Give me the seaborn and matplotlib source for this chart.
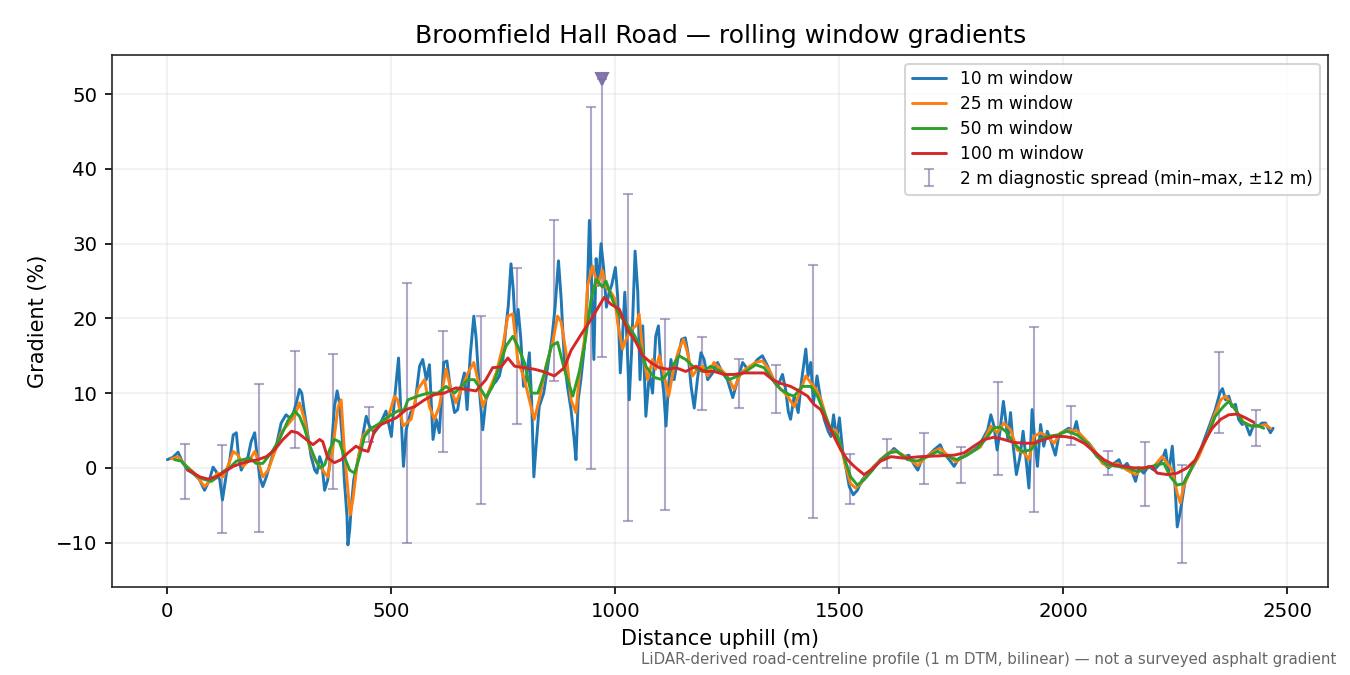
import numpy as np
import pandas as pd
import matplotlib
matplotlib.use("Agg")
import matplotlib.pyplot as plt
import seaborn as sns

# ---------------- data ----------------
w10_x = [0, 12, 24, 35, 46, 61, 72, 83, 94, 102, 109, 117, 123, 132, 139, 147, 154, 159, 165, 172,
         180, 187, 195, 198, 206, 213, 221, 232, 243, 254, 265, 277, 288, 295, 300, 306, 314, 321, 329, 334,
         340, 345, 351, 358, 366, 373, 379, 384, 390, 395, 401, 403, 407, 410, 416, 424, 433, 444, 451, 462,
         473, 488, 500, 507, 516, 520, 527, 533, 543, 552, 563, 570, 578, 585, 593, 600, 607, 617, 624, 632,
         641, 648, 656, 663, 669, 676, 684, 689, 697, 704, 711, 723, 734, 741, 749, 756, 761, 767, 772, 777,
         783, 789, 795, 801, 808, 813, 818, 823, 830, 840, 849, 858, 865, 873, 879, 886, 893, 901, 908, 912,
         917, 923, 931, 937, 942, 947, 952, 957, 962, 968, 974, 980, 986, 992, 1000, 1005, 1011, 1016, 1021, 1026,
         1031, 1036, 1044, 1050, 1055, 1061, 1068, 1076, 1083, 1090, 1096, 1102, 1108, 1113, 1118, 1124, 1131, 1139, 1148, 1156,
         1162, 1169, 1176, 1183, 1191, 1198, 1206, 1217, 1228, 1239, 1250, 1262, 1273, 1284, 1295, 1306, 1317, 1328, 1340, 1351,
         1362, 1373, 1380, 1386, 1391, 1399, 1408, 1415, 1425, 1430, 1436, 1442, 1450, 1457, 1466, 1475, 1481, 1487, 1494, 1500,
         1507, 1514, 1522, 1531, 1540, 1551, 1563, 1577, 1592, 1607, 1622, 1633, 1644, 1655, 1667, 1675, 1685, 1696, 1711, 1725,
         1733, 1745, 1756, 1767, 1778, 1789, 1800, 1811, 1823, 1831, 1838, 1845, 1852, 1858, 1866, 1871, 1876, 1882, 1888, 1895,
         1903, 1910, 1916, 1923, 1930, 1936, 1942, 1949, 1956, 1964, 1971, 1982, 1990, 2001, 2012, 2023, 2029, 2034, 2046, 2057,
         2068, 2079, 2090, 2101, 2113, 2124, 2131, 2142, 2154, 2161, 2168, 2179, 2190, 2202, 2213, 2220, 2228, 2235, 2243, 2248,
         2254, 2260, 2265, 2272, 2284, 2295, 2306, 2317, 2328, 2339, 2349, 2355, 2362, 2369, 2376, 2384, 2391, 2399, 2406, 2416,
         2425, 2436, 2443, 2451, 2462, 2468]
w10_y = [1.1, 1.4, 2.1, 0.6, -0.3, -0.9, -1.6, -3.0, -1.6, 0.1, -0.5, -1.6, -4.3, -0.7, 0.9, 4.4, 4.7, 1.5, -0.3, 0.6,
         1.5, 3.5, 4.7, 2.9, -1.2, -2.5, -1.2, 1.1, 2.9, 6.0, 7.1, 6.5, 8.7, 10.5, 10.0, 7.4, 4.2, 1.5, -0.3, -0.7,
         1.5, 0.6, -3.0, -1.6, 2.4, 8.2, 10.3, 8.7, 4.2, -1.6, -6.5, -10.3, -8.3, -5.6, -1.6, 0.6, 3.3, 6.9, 5.6, 4.7,
         5.6, 7.6, 4.2, 9.1, 14.7, 9.1, 0.2, 5.1, 7.4, 8.2, 13.6, 14.5, 11.8, 13.8, 3.8, 6.5, 4.7, 14.1, 14.3, 10.5,
         7.4, 7.8, 11.0, 12.7, 7.8, 15.0, 20.3, 17.5, 10.0, 5.1, 9.1, 10.9, 11.6, 12.3, 14.5, 19.0, 21.7, 27.3, 23.9, 18.1,
         21.2, 17.2, 10.9, 11.8, 15.4, 9.1, -1.2, 2.9, 8.2, 10.0, 13.6, 17.2, 21.2, 27.7, 22.6, 14.5, 10.9, 7.8, 3.8, 1.1,
         9.1, 11.8, 16.3, 22.6, 33.1, 24.8, 14.5, 28.0, 24.4, 30.0, 26.6, 21.5, 23.5, 24.5, 26.8, 23.0, 12.7, 17.6, 23.5, 16.8,
         9.1, 15.4, 29.0, 23.5, 11.8, 19.0, 6.9, 12.7, 10.0, 17.6, 19.0, 13.2, 10.0, 5.6, 10.5, 14.5, 11.8, 14.5, 17.2, 17.4,
         15.4, 10.9, 8.0, 11.8, 15.4, 14.5, 11.8, 12.7, 14.1, 12.7, 11.8, 9.4, 11.8, 14.1, 13.2, 13.6, 14.5, 15.0, 13.6, 11.8,
         10.9, 12.5, 10.5, 7.5, 6.5, 9.6, 7.4, 11.4, 15.9, 12.3, 14.1, 8.7, 12.3, 9.6, 6.5, 4.9, 4.2, 7.1, 3.8, 6.7,
         2.4, 0.2, -2.5, -3.6, -3.0, -1.6, -0.7, 0.2, 1.1, 1.7, 2.6, 2.0, 1.5, 1.7, 0.4, -0.3, 1.3, 1.5, 2.4, 3.1,
         2.0, 1.1, 0.2, 1.3, 1.5, 2.0, 2.4, 2.9, 4.2, 5.1, 7.1, 5.6, 2.4, 4.7, 8.9, 6.5, 3.8, 7.4, 2.9, -0.9,
         1.5, 4.9, 1.5, -2.7, 7.8, 3.8, 0.2, 5.8, 2.9, 4.9, 3.8, 1.7, 4.4, 4.9, 5.3, 4.9, 6.2, 4.7, 3.8, 3.3,
         2.4, 1.5, 0.6, 0.0, 0.6, 1.1, 0.0, 0.6, -0.7, -1.8, 0.0, -0.7, 0.2, -0.3, 0.4, 1.1, 2.4, -0.7, 2.9, -1.2,
         -7.9, -6.1, -4.3, -1.6, -0.3, 0.9, 2.4, 4.2, 6.0, 7.8, 10.0, 10.6, 9.1, 9.6, 8.2, 8.5, 6.5, 5.8, 6.0, 4.4,
         5.8, 5.6, 6.0, 6.0, 4.7, 5.3]

w25_x = [9, 24, 39, 57, 72, 83, 98, 113, 124, 135, 147, 158, 169, 184, 195, 202, 213, 225, 239, 254,
         269, 284, 295, 306, 317, 329, 343, 358, 369, 381, 388, 395, 403, 408, 414, 425, 436, 449, 462, 477,
         492, 507, 514, 526, 544, 559, 574, 585, 596, 607, 622, 633, 644, 656, 671, 684, 693, 704, 719, 734,
         749, 760, 771, 782, 797, 808, 819, 830, 845, 860, 871, 879, 890, 901, 912, 920, 931, 938, 949, 960,
         971, 979, 990, 999, 1005, 1016, 1024, 1035, 1046, 1053, 1061, 1072, 1083, 1090, 1098, 1109, 1119, 1131, 1142, 1152,
         1161, 1172, 1183, 1195, 1206, 1220, 1235, 1250, 1265, 1280, 1295, 1313, 1328, 1343, 1358, 1373, 1384, 1399, 1414, 1425,
         1436, 1448, 1459, 1470, 1481, 1492, 1503, 1514, 1525, 1536, 1548, 1563, 1577, 1592, 1607, 1622, 1640, 1660, 1675, 1690,
         1711, 1725, 1745, 1760, 1780, 1800, 1815, 1830, 1838, 1852, 1867, 1882, 1897, 1912, 1923, 1934, 1949, 1964, 1979, 1994,
         2016, 2031, 2049, 2068, 2087, 2101, 2120, 2142, 2161, 2179, 2202, 2220, 2232, 2243, 2254, 2261, 2268, 2284, 2302, 2321,
         2336, 2351, 2362, 2373, 2388, 2403, 2421, 2440, 2451, 2462]
w25_y = [1.2, 1.5, 0.4, -0.5, -1.6, -2.5, -1.6, -0.7, -1.2, 0.2, 2.2, 1.7, 0.2, 1.1, 2.2, 1.1, -1.2, -0.3, 2.0, 4.7,
         5.8, 6.9, 8.7, 6.5, 2.9, 1.1, 0.0, -1.2, 2.4, 8.2, 9.1, 2.4, -3.0, -6.3, -4.3, 1.1, 4.2, 5.1, 5.3, 5.8,
         6.5, 9.6, 9.1, 5.6, 6.5, 10.5, 11.8, 8.2, 6.5, 8.2, 13.2, 10.5, 8.7, 10.5, 12.7, 14.1, 11.8, 8.2, 10.5, 12.7,
         16.3, 20.3, 20.6, 14.5, 11.8, 9.1, 6.5, 9.1, 13.6, 16.8, 20.3, 19.5, 15.4, 9.1, 7.4, 12.7, 17.2, 24.4, 27.0, 24.4,
         26.4, 24.2, 23.5, 22.6, 19.4, 15.9, 17.2, 18.5, 19.0, 20.6, 15.4, 11.8, 14.5, 13.2, 15.0, 12.3, 9.6, 13.6, 15.9, 17.2,
         15.4, 12.3, 13.2, 13.6, 12.3, 14.1, 13.2, 12.3, 10.5, 12.7, 13.4, 14.1, 14.3, 13.2, 11.2, 10.3, 9.6, 8.2, 10.5, 12.3,
         11.4, 10.5, 9.1, 6.9, 4.9, 5.1, 2.9, 0.2, -2.1, -2.7, -2.1, -0.7, 0.1, 1.1, 1.9, 2.3, 1.8, 1.0, 0.3, 1.3,
         2.2, 2.6, 1.5, 0.8, 1.6, 2.3, 2.8, 4.6, 5.6, 4.7, 6.0, 5.1, 2.4, 2.0, 1.1, 4.2, 4.7, 4.2, 3.3, 4.7,
         5.1, 4.9, 3.8, 2.4, 0.6, 0.2, 0.6, -0.3, -0.9, 0.0, 0.2, 1.5, 0.6, -0.3, -3.4, -4.7, -2.5, -0.3, 1.5, 4.2,
         6.9, 9.1, 9.6, 8.7, 7.4, 6.0, 5.6, 5.6, 5.8, 5.3]

w50_x = [16, 31, 46, 61, 80, 98, 113, 124, 139, 154, 169, 184, 198, 213, 232, 250, 269, 284, 295, 306,
         317, 329, 340, 351, 362, 373, 384, 395, 407, 418, 429, 440, 455, 470, 485, 500, 514, 529, 537, 559,
         581, 604, 622, 641, 656, 671, 685, 700, 711, 726, 741, 756, 771, 782, 797, 812, 827, 842, 857, 871,
         886, 905, 920, 931, 946, 957, 971, 979, 994, 1009, 1024, 1042, 1057, 1068, 1087, 1105, 1124, 1142, 1157, 1176,
         1195, 1213, 1235, 1254, 1273, 1291, 1313, 1332, 1351, 1369, 1388, 1399, 1417, 1436, 1451, 1466, 1481, 1496, 1510, 1525,
         1540, 1555, 1574, 1592, 1611, 1629, 1652, 1674, 1696, 1719, 1741, 1763, 1785, 1808, 1826, 1845, 1860, 1871, 1889, 1908,
         1927, 1946, 1964, 1986, 2008, 2031, 2053, 2075, 2098, 2120, 2142, 2165, 2187, 2209, 2224, 2239, 2254, 2268, 2284, 2302,
         2321, 2339, 2357, 2369, 2384, 2399, 2418, 2436, 2447]
w50_y = [1.1, 0.9, 0.0, -0.9, -1.5, -1.8, -1.2, -0.5, 0.0, 0.9, 1.1, 1.3, 0.6, 0.6, 2.0, 3.8, 6.3, 7.6, 6.9, 5.3,
         3.1, 1.3, 0.0, 0.4, 2.4, 3.8, 3.5, 1.5, -0.3, -0.7, 1.5, 4.2, 5.3, 5.8, 6.5, 7.1, 7.6, 7.8, 9.1, 9.6,
         10.0, 10.0, 10.9, 10.0, 10.9, 11.8, 11.8, 10.5, 9.4, 10.9, 13.6, 16.3, 17.6, 16.3, 14.1, 10.0, 10.0, 12.7, 16.3, 16.8,
         13.2, 9.6, 13.0, 16.3, 22.6, 25.2, 24.2, 25.0, 22.4, 20.4, 19.4, 17.8, 16.0, 13.6, 12.1, 11.8, 13.2, 15.0, 14.5, 13.4,
         12.9, 13.6, 12.9, 11.8, 12.3, 12.9, 13.8, 13.4, 11.8, 10.5, 9.8, 9.6, 10.9, 10.9, 9.6, 7.4, 5.1, 4.2, 1.5, -1.2,
         -2.3, -1.6, -0.3, 1.1, 2.0, 2.2, 1.1, 0.9, 1.5, 2.2, 1.5, 1.1, 1.7, 2.6, 3.8, 5.4, 5.4, 4.9, 3.3, 2.2,
         2.4, 3.8, 4.2, 4.4, 4.9, 4.4, 3.3, 1.5, 0.4, 0.2, 0.0, -0.5, 0.0, 0.4, 0.6, -1.2, -2.3, -2.1, -0.3, 2.0,
         4.2, 6.9, 8.2, 8.9, 7.8, 6.2, 5.6, 5.6, 5.3]

w100_x = [45, 54, 72, 91, 109, 128, 147, 165, 184, 202, 221, 239, 258, 277, 291, 310, 325, 340, 347, 358,
          373, 388, 403, 421, 436, 448, 462, 477, 492, 511, 533, 552, 574, 596, 618, 644, 667, 689, 711, 726,
          745, 760, 775, 797, 819, 838, 864, 886, 901, 923, 946, 964, 975, 990, 1009, 1027, 1046, 1061, 1079, 1098,
          1117, 1135, 1157, 1180, 1198, 1220, 1243, 1265, 1287, 1310, 1332, 1351, 1369, 1391, 1410, 1429, 1443, 1458, 1473, 1488,
          1503, 1518, 1533, 1555, 1570, 1592, 1615, 1644, 1681, 1719, 1756, 1778, 1800, 1823, 1845, 1867, 1889, 1912, 1934, 1956,
          1979, 2001, 2023, 2046, 2068, 2090, 2113, 2135, 2157, 2179, 2198, 2209, 2232, 2254, 2276, 2295, 2313, 2332, 2351, 2369,
          2388, 2406, 2425]
w100_y = [-0.3, -0.5, -1.2, -1.5, -1.2, -0.5, 0.2, 0.6, 0.9, 1.1, 1.5, 2.4, 3.8, 4.9, 4.7, 3.8, 3.1, 3.8, 3.5, 1.3,
          0.7, 1.1, 2.0, 2.9, 2.4, 2.2, 4.9, 5.8, 6.2, 6.7, 7.8, 8.2, 9.1, 9.8, 10.0, 10.7, 10.5, 10.3, 11.8, 13.4,
          13.5, 14.7, 13.6, 13.4, 13.2, 12.9, 12.3, 13.4, 15.7, 17.8, 19.9, 21.7, 22.8, 21.9, 21.2, 18.5, 16.8, 15.0, 14.1, 13.4,
          13.2, 13.4, 12.9, 13.6, 12.9, 12.9, 12.5, 12.5, 12.7, 12.7, 12.7, 11.8, 11.3, 10.9, 10.3, 9.6, 8.5, 7.8, 6.0, 4.2,
          2.4, 1.1, 0.2, -0.9, -0.3, 0.9, 1.5, 1.3, 1.5, 1.6, 1.7, 2.0, 2.9, 3.8, 4.1, 3.8, 3.4, 3.3, 3.3, 3.8,
          4.2, 4.2, 4.0, 3.3, 2.2, 1.1, 0.4, 0.2, 0.0, 0.0, 0.2, -0.7, -0.9, -0.7, 0.0, 1.1, 3.3, 5.3, 6.5, 7.1,
          7.2, 6.7, 6.1]

spread_x = [39, 121, 204, 286, 369, 451, 534, 616, 699, 781, 864, 946, 1028, 1111, 1193,
            1276, 1358, 1441, 1523, 1606, 1688, 1771, 1853, 1935, 2018, 2100, 2183, 2265, 2347, 2430]
spread_max = [3.2, 3.1, 11.2, 15.7, 15.2, 8.1, 24.7, 18.3, 20.3, 26.8, 33.2, 48.3, 36.7, 19.9, 17.5,
              14.5, 13.8, 27.2, 1.8, 3.8, 4.7, 2.8, 11.5, 18.8, 8.3, 2.3, 3.4, 0.4, 15.5, 7.8]
spread_min = [-4.2, -8.7, -8.6, 2.7, -2.8, 3.5, -10.0, 2.1, -4.8, 5.9, 11.6, -0.1, -7.1, -5.6, 7.7,
              8.0, 7.3, -6.7, -4.8, 0.0, -2.1, -2.0, -0.9, -5.9, 3.0, -1.0, -5.1, -12.7, 4.7, 2.9]
peak_x = [970]
peak_min = [14.8]
peak_max = [52.0]

series_names = ["10 m window", "25 m window", "50 m window", "100 m window"]
series_x = [w10_x, w25_x, w50_x, w100_x]
series_y = [w10_y, w25_y, w50_y, w100_y]

title = "Broomfield Hall Road \u2014 rolling window gradients"
xlabel = "Distance uphill (m)"
ylabel = "Gradient (%)"
note = "LiDAR-derived road-centreline profile (1 m DTM, bilinear) \u2014 not a surveyed asphalt gradient"
spread_label = "2 m diagnostic spread (min\u2013max, \u00b112 m)"

# ---------------- plotting ----------------
sns.set_style("ticks")
plt.rcParams["font.family"] = ["DejaVu Sans"]
for key in ["text.color", "axes.labelcolor", "xtick.color", "ytick.color"]:
    plt.rcParams[key] = "black"

frames = []
for name, xs, ys in zip(series_names, series_x, series_y):
    frames.append(pd.DataFrame({"distance": xs, "gradient": ys, "series": name}))
df = pd.concat(frames, ignore_index=True)

fig, ax = plt.subplots(figsize=(9, 4.5), dpi=150)
fig.subplots_adjust(left=0.083, right=0.984, top=0.9185, bottom=0.1304)

palette = dict(zip(series_names, sns.color_palette("tab10", 4)))
sns.lineplot(data=df, x="distance", y="gradient", hue="series", palette=palette,
             hue_order=series_names, sort=False, estimator=None, linewidth=1.4, ax=ax)

sx = np.array(spread_x + peak_x, dtype=float)
smin = np.array(spread_min + peak_min)
smax = np.array(spread_max + peak_max)
err_color = "#7f6fa8"
ax.errorbar(sx, smin, yerr=[np.zeros_like(smin), smax - smin], fmt="none",
            ecolor=err_color, alpha=0.6, elinewidth=1.0, capsize=2.5, capthick=1.0,
            label=spread_label, zorder=1)
ax.plot(peak_x, peak_max, marker="v", color=err_color, markersize=6, linestyle="none", alpha=0.95, zorder=3)

ax.set_title(title, fontsize=12)
ax.set_xlabel(xlabel, fontsize=10)
ax.set_ylabel(ylabel, fontsize=10)
ax.tick_params(labelsize=9.5)
ax.grid(True, alpha=0.3)
for s in ax.spines.values():
    s.set_visible(True)
    s.set_color("#262626")

handles, labels = ax.get_legend_handles_labels()
ax.legend(handles, labels, loc="upper right", fontsize=8.2, frameon=True,
          labelspacing=0.4, borderaxespad=0.5)

fig.text(0.990, 0.012, note, ha="right", va="bottom", fontsize=7.2, color="#666666")

fig.savefig("out.png", dpi=150)
